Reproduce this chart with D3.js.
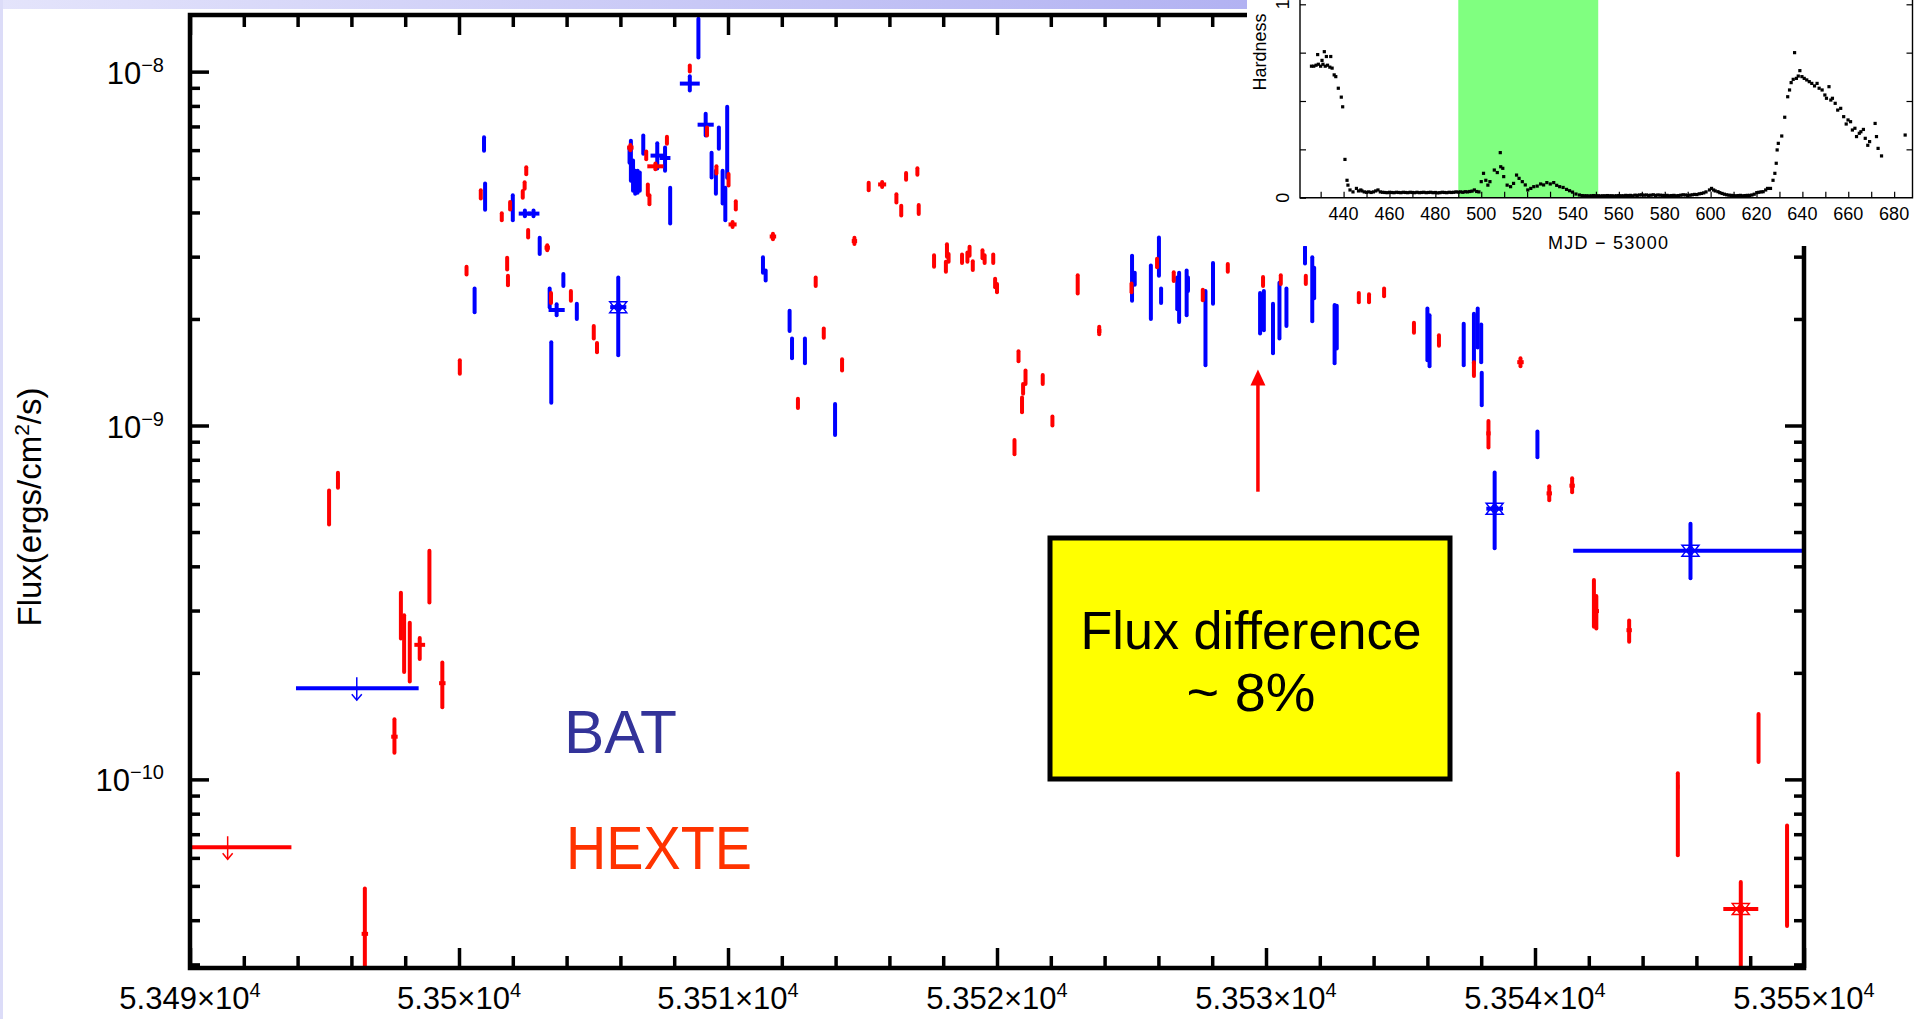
<!DOCTYPE html>
<html>
<head>
<meta charset="utf-8">
<title>BAT / HEXTE flux</title>
<script src="https://cdn.jsdelivr.net/npm/d3@7"></script>
<style>
  body { margin: 0; background: #fff; overflow: hidden; }
  svg { display: block; }
  .axis path { display: none; }
  .axis line { stroke: #000; stroke-width: 3.5; }
  text { font-family: "Liberation Sans", Arial, sans-serif; }
</style>
</head>
<body>
<div id="chart"></div>
<script>
// flux values below are in units of 1e-9 ergs/cm2/s
var UNIT = 1e-9;

// ---- BAT (blue) ----
var batMjd = [
  53500.58, 53500.93, 53500.97, 53502.00, 53502.45, 53502.77, 53503.00, 53503.37, 53503.43, 53503.63,
  53503.88, 53504.38, 53505.92, 53506.34, 53506.39, 53506.47, 53506.55, 53506.64, 53506.72, 53506.85,
  53507.37, 53507.66, 53507.85, 53508.58, 53508.90, 53509.17, 53509.39, 53509.55, 53509.66, 53509.80,
  53509.90, 53509.97, 53511.30, 53511.40, 53512.29, 53512.38, 53512.86, 53513.98, 53525.02, 53525.12,
  53525.72, 53526.02, 53526.10, 53526.70, 53526.77, 53527.05, 53527.10, 53527.75, 53528.03, 53529.78,
  53529.92, 53530.26, 53530.50, 53530.76, 53531.45, 53531.72, 53531.79, 53532.55, 53532.63, 53536.00,
  53536.08, 53537.35, 53537.73, 53537.87, 53538.00, 53538.02, 53538.50, 53540.09, 53545.78];
var batFlux = [
  2.25, 6.24, 4.44, 4.12, 3.97, 3.97, 3.24, 2.29, 1.41, 2.12,
  2.58, 2.10, 2.16, 5.80, 5.60, 5.08, 4.85, 4.90, 4.80, 6.30,
  5.79, 5.70, 4.17, 9.25, 12.4, 7.08, 5.46, 4.92, 6.50, 4.70,
  4.23, 6.38, 2.85, 2.65, 2.00, 1.65, 1.62, 1.05, 2.62, 2.60,
  2.40, 3.00, 2.34, 2.40, 2.30, 2.37, 2.50, 1.89, 2.53, 2.09,
  2.11, 1.88, 2.11, 2.16, 3.00, 2.44, 2.55, 1.81, 1.90, 1.81,
  1.74, 1.70, 1.76, 1.88, 1.71, 1.27, 0.582, 0.883, 0.443];
var batLo = [
  2.09, 5.98, 4.07, 3.80, 3.90, 3.90, 3.05, 2.16, 1.16, 2.05,
  2.48, 2.00, 1.58, 5.53, 4.92, 4.61, 4.52, 4.55, 4.61, 5.86,
  5.32, 5.25, 3.72, 8.85, 10.96, 6.60, 5.02, 4.52, 6.05, 4.24,
  3.80, 5.01, 2.70, 2.57, 1.85, 1.55, 1.50, 0.94, 2.25, 2.50,
  2.00, 2.65, 2.22, 2.13, 1.96, 2.05, 2.40, 1.48, 2.21, 1.82,
  1.86, 1.60, 1.76, 1.91, 2.87, 1.97, 2.29, 1.50, 1.65, 1.53,
  1.47, 1.48, 1.50, 1.66, 1.51, 1.14, 0.450, 0.813, 0.370];
var batHi = [
  2.44, 6.52, 4.83, 4.47, 4.05, 4.05, 3.39, 2.44, 1.72, 2.20,
  2.68, 2.21, 2.62, 6.10, 6.38, 5.61, 5.25, 5.25, 5.19, 6.60,
  6.27, 6.10, 4.70, 9.70, 14.1, 7.60, 5.90, 5.25, 6.95, 5.25,
  4.70, 7.96, 2.99, 2.74, 2.11, 1.76, 1.76, 1.15, 3.02, 2.70,
  2.83, 3.40, 2.44, 2.62, 2.70, 2.74, 2.62, 2.40, 2.88, 2.37,
  2.40, 2.21, 2.53, 2.44, 3.20, 2.99, 2.79, 2.19, 2.18, 2.14,
  2.05, 1.94, 2.07, 2.14, 1.93, 1.41, 0.736, 0.962, 0.528];
var batXerr = [
  0, 0, 0, 0, 0.23, 0.22, 0, 0, 0, 0.3,
  0, 0, 0.3, 0, 0, 0, 0, 0, 0, 0,
  0.25, 0.2, 0, 0.37, 0, 0.3, 0, 0, 0, 0,
  0, 0, 0, 0, 0, 0, 0, 0, 0, 0,
  0, 0, 0, 0, 0, 0, 0, 0, 0, 0,
  0, 0, 0, 0, 0, 0, 0, 0, 0, 0,
  0, 0, 0, 0, 0, 0, 0.31, 0, 4.36];
// b = plain bar, c = cross, s = star marker
var batSym = ("bbbbccbbbc" + "bbsbbbbbbb" + "ccbcbcbbbb" + "bbbbbbbbbb" +
              "bbbbbbbbbb" + "bbbbbbbbbb" + "bbbbbbsbs").split("");

// ---- HEXTE (red) ----
var hexMjd = [
  53495.17, 53495.50, 53496.50, 53497.60, 53497.84, 53497.96, 53498.17, 53498.54, 53498.90, 53499.38,
  53500.03, 53500.28, 53500.81, 53501.59, 53501.79, 53501.82, 53501.90, 53502.37, 53502.44, 53502.50,
  53502.57, 53503.28, 53503.42, 53504.16, 53505.01, 53505.13, 53506.37, 53506.96, 53507.02, 53507.08,
  53507.30, 53507.73, 53508.58, 53509.22, 53509.57, 53510.02, 53510.17, 53510.29, 53511.67, 53512.60,
  53513.26, 53513.56, 53514.24, 53514.70, 53515.23, 53515.73, 53516.26, 53516.44, 53516.62, 53517.04,
  53517.09, 53517.66, 53518.10, 53518.14, 53518.20, 53518.70, 53518.90, 53518.98, 53519.10, 53519.46,
  53519.54, 53519.86, 53519.93, 53520.00, 53520.65, 53520.80, 53520.93, 53520.97, 53521.06, 53521.70,
  53522.06, 53523.00, 53523.80, 53525.00, 53525.95, 53526.57, 53527.65, 53528.58, 53529.89, 53530.55,
  53531.48, 53533.45, 53533.83, 53534.39, 53535.50, 53536.43, 53537.73, 53538.27, 53539.46, 53540.53,
  53541.38, 53542.19, 53542.28, 53543.50, 53545.31, 53547.65, 53548.31, 53549.37];
var hexFlux = [
  0.59, 0.70, 0.0366, 0.132, 0.295, 0.25, 0.23, 0.24, 0.38, 0.187,
  1.46, 2.74, 4.50, 3.89, 2.86, 2.57, 4.18, 4.50, 4.77, 5.25,
  3.48, 3.18, 2.30, 2.33, 1.84, 1.66, 6.10, 5.80, 4.68, 4.40,
  5.40, 6.40, 10.2, 6.78, 5.28, 4.99, 3.70, 4.18, 3.42, 1.15,
  2.55, 1.82, 1.48, 3.32, 4.73, 4.80, 4.38, 4.05, 5.06, 5.22,
  4.09, 2.92, 2.81, 3.12, 2.98, 2.96, 2.98, 3.12, 2.83, 3.05,
  2.96, 2.96, 2.53, 2.44, 0.87, 1.57, 1.15, 1.27, 1.37, 1.35,
  1.03, 2.50, 1.85, 2.45, 2.88, 2.63, 2.34, 2.79, 2.55, 2.58,
  2.58, 2.30, 2.29, 2.38, 1.89, 1.74, 1.45, 0.95, 1.51, 0.643,
  0.676, 0.319, 0.299, 0.264, 0.0953, 0.043, 0.135, 0.0624];
var hexLo = [
  0.525, 0.667, 0.020, 0.119, 0.25, 0.201, 0.189, 0.219, 0.316, 0.160,
  1.40, 2.67, 4.38, 3.80, 2.76, 2.49, 4.08, 4.40, 4.67, 5.13,
  3.40, 3.13, 2.22, 2.25, 1.76, 1.61, 6.00, 5.65, 4.48, 4.22,
  5.30, 6.25, 10.0, 6.60, 5.15, 4.77, 3.64, 4.08, 3.36, 1.12,
  2.48, 1.77, 1.43, 3.26, 4.62, 4.72, 4.27, 3.92, 4.95, 5.11,
  3.96, 2.81, 2.72, 3.00, 2.90, 2.88, 2.90, 3.02, 2.75, 2.97,
  2.88, 2.88, 2.46, 2.38, 0.83, 1.52, 1.09, 1.23, 1.31, 1.31,
  1.00, 2.36, 1.81, 2.38, 2.80, 2.56, 2.26, 2.72, 2.48, 2.51,
  2.51, 2.23, 2.23, 2.32, 1.83, 1.68, 1.38, 0.867, 1.47, 0.615,
  0.648, 0.270, 0.267, 0.245, 0.061, 0.020, 0.112, 0.0385];
var hexHi = [
  0.655, 0.735, 0.0492, 0.148, 0.337, 0.291, 0.277, 0.251, 0.443, 0.214,
  1.53, 2.81, 4.62, 3.98, 2.98, 2.65, 4.28, 4.60, 4.87, 5.37,
  3.57, 3.23, 2.37, 2.40, 1.91, 1.71, 6.20, 5.95, 4.80, 4.47,
  5.50, 6.55, 10.4, 6.95, 5.40, 5.14, 3.76, 4.30, 3.48, 1.19,
  2.62, 1.88, 1.54, 3.39, 4.85, 4.88, 4.50, 4.18, 5.17, 5.33,
  4.20, 3.03, 2.90, 3.25, 3.05, 3.04, 3.08, 3.20, 2.91, 3.13,
  3.03, 3.04, 2.60, 2.51, 0.91, 1.62, 1.20, 1.31, 1.43, 1.39,
  1.06, 2.66, 1.90, 2.52, 2.96, 2.71, 2.42, 2.86, 2.63, 2.66,
  2.65, 2.37, 2.35, 2.44, 1.95, 1.80, 1.51, 1.03, 1.55, 0.673,
  0.709, 0.366, 0.330, 0.281, 0.104, 0.0513, 0.153, 0.0741];
var hexXerr = [
  0, 0, 0.12, 0.12, 0, 0, 0, 0.2, 0, 0.12,
  0, 0, 0, 0, 0, 0, 0, 0, 0, 0,
  0, 0.1, 0, 0, 0, 0, 0.12, 0, 0, 0,
  0.3, 0, 0, 0, 0, 0, 0.15, 0, 0.12, 0,
  0, 0, 0, 0.1, 0, 0.15, 0, 0, 0, 0,
  0, 0, 0, 0, 0, 0, 0, 0, 0, 0,
  0, 0, 0, 0, 0, 0, 0, 0, 0, 0,
  0, 0, 0.08, 0, 0, 0, 0, 0, 0, 0,
  0, 0, 0, 0, 0, 0, 0, 0.08, 0.12, 0.1,
  0.1, 0, 0.1, 0.1, 0.06, 0.65, 0, 0];
var hexSym = ("bbccbbbcbc" + "bbbbbbbbbb" + "bcbbbbcbbb" + "cbbbbbcbcb" + "bbbcbcbbbb" +
              "bbbbbbbbbb" + "bbbbbbbbbb" + "bbcbbbbbbb" + "bbbbbbbccc" + "cbcccsbb").split("");

// ---- upper limits (BAT, HEXTE) ----
var ulSeries = ["BAT", "HEXTE"];
var ulFrom = [53493.94, 53489.6];
var ulTo = [53498.50, 53493.77];
var ulArrowAt = [53496.2, 53491.4];
var ulFlux = [0.181, 0.0643];

// ---- annotation arrow ----
var arrowMjd = 53529.7;
var arrowFrom = 0.65;
var arrowTo = 1.44;

// ---- axis ticks ----
var xTickVals = [53490, 53500, 53510, 53520, 53530, 53540, 53550];
var xTickText = ["5.349", "5.35", "5.351", "5.352", "5.353", "5.354", "5.355"];
var yTickVals = [1e-10, 1e-9, 1e-8];
var yTickExp = ["\u221210", "\u22129", "\u22128"];

// ---- inset: hardness vs MJD-53000 ----
var hardMjd = [
  426, 427, 428, 428.7, 429, 430, 430.6, 431, 431.6, 432,
  432.5, 433, 434, 434.4, 435, 435.9, 436.6, 437.7, 439, 439.6,
  440.6, 441.5, 441.9, 442.8, 444.1, 445.6, 446.5, 447.5,
  448, 449, 450, 451, 452, 453, 454, 455, 456, 457,
  458, 459, 460, 461, 462, 463, 464, 465, 466, 467,
  468, 469, 470, 471, 472, 473, 474, 475, 476, 477,
  478, 479, 480, 481, 482, 483, 484, 485, 486, 487,
  488, 489, 490, 491, 492, 493, 494, 495, 496, 497,
  498, 499,
  500, 501, 502, 502.9, 503.8, 505.7, 507, 508.3, 508.5, 509.4,
  509.8, 511.3, 512.8, 514.1, 515.4, 516.5, 517.9, 519.2, 520.3, 521.6,
  522.9, 524.4, 525.9, 527.2, 528.6, 530.1, 531.6, 532.9, 534.2, 535.7,
  537.2, 538.5, 539.8, 541.3, 542.8,
  544, 545, 546, 547, 548, 549, 550, 551, 552, 553,
  554, 555, 556, 557, 558, 559, 560, 561, 562, 563,
  564, 565, 566, 567, 568, 569, 570, 571, 572, 573,
  574, 575, 576, 577, 578, 579, 580, 581, 582, 583,
  584, 585, 586, 587, 588, 589, 590, 591, 592, 593,
  594, 595, 596, 597, 598,
  599.5, 600.4, 601.3, 602, 603.2, 604, 605, 606, 607, 608,
  609, 610, 611, 612, 613, 614, 615, 616, 617, 618,
  619, 620.1, 621, 622, 622.9, 624, 624.8, 626.1, 627.2, 628,
  628.6, 629, 629.5, 631, 632.3, 633.6, 634.4, 635.1, 636, 636.6,
  637.4, 638.2, 638.9, 639.8, 640.8, 641.9, 643, 644.1, 645.3, 646.4,
  647.3, 648.6, 649.8, 650.5, 651.6, 652.4, 653.1, 654.3, 655.4, 656.7,
  658, 659.1, 659.9, 661, 661.8, 662.9, 663.6, 664.8, 665.5, 666.6,
  667.4, 668.5, 669.3, 671.7, 672.3, 673, 674.5, 684.8];
var hardVal = [
  .68, .68, .685, .74, .69, .68, .71, .69, .755, .68,
  .73, .685, .675, .73, .67, .635, .626, .566, .52, .47,
  .198, .09, .065, .04, .03, .048, .035, .04,
  .035, .03, .028, .03, .027, .03, .035, .04, .03, .028,
  .027, .026, .028, .027, .026, .028, .027, .026, .028, .027,
  .026, .028, .027, .026, .028, .026, .027, .028, .026, .027,
  .028, .026, .027, .025, .026, .028, .027, .026, .028, .027,
  .028, .03, .029, .03, .028, .031, .03, .032, .034, .04,
  .032, .03,
  .083, .126, .09, .065, .083, .143, .13, .233, .16, .152,
  .109, .065, .057, .074, .117, .1, .083, .066, .04, .048,
  .057, .06, .071, .066, .078, .071, .078, .064, .057, .053,
  .043, .036, .029, .019, .014,
  .011, .01, .01, .009, .01, .011, .01, .01, .009, .01,
  .01, .011, .01, .01, .009, .01, .011, .01, .01, .012,
  .011, .012, .01, .013, .012, .014, .015, .013, .014, .012,
  .013, .015, .012, .014, .013, .012, .011, .012, .01, .011,
  .012, .01, .011, .013, .015, .014, .012, .013, .015, .017,
  .016, .02, .022, .025, .03,
  .04, .048, .04, .035, .031, .026, .022, .018, .015, .013,
  .012, .011, .01, .011, .012, .01, .011, .012, .012, .014,
  .018, .026, .028, .03, .031, .04, .048, .048, .09, .126,
  .178, .247, .281, .319, .416, .522, .557, .595, .612, .75,
  .617, .629, .657, .626, .617, .609, .6, .591, .578, .591,
  .566, .557, .531, .514, .574, .505, .514, .488, .453, .462,
  .419, .381, .402, .393, .35, .359, .316, .333, .341, .353,
  .307, .271, .29, .384, .316, .255, .216, .324];
var hardBand = [490, 551];
var insetTickVals = [440, 460, 480, 500, 520, 540, 560, 580, 600, 620, 640, 660, 680];

var colors = {BAT: "#0000ff", HEXTE: "#ff0000"};

//define chart area
var svgWidth = 1915;
var svgHeight = 1019;
var margin = {top: 15, right: 111, bottom: 51, left: 190};
var width = svgWidth - margin.left - margin.right;
var height = svgHeight - margin.top - margin.bottom;

var svg = d3.select("#chart").append("svg")
    .attr("width", svgWidth)
    .attr("height", svgHeight);

// slide decoration: lavender strips
var defs = svg.append("defs");
var grad = defs.append("linearGradient").attr("id", "strip");
grad.append("stop").attr("offset", "0%").attr("stop-color", "#e4e4fb");
grad.append("stop").attr("offset", "100%").attr("stop-color", "#b2b2f2");
svg.append("rect").attr("x", 0).attr("y", 0).attr("width", 1247).attr("height", 9)
    .attr("fill", "url(#strip)");
svg.append("rect").attr("x", 0).attr("y", 0).attr("width", 3).attr("height", svgHeight)
    .attr("fill", "#dcdcf8");

defs.append("clipPath").attr("id", "plotClip")
    .append("rect").attr("width", width).attr("height", height);

var chartGroup = svg.append("g")
    .attr("transform", `translate(${margin.left}, ${margin.top})`);

var xScale = d3.scaleLinear().domain([53490, 53550]).range([0, width]);
var yScale = d3.scaleLog()
    .domain([Math.pow(10, -10.533), Math.pow(10, -7.84)])
    .range([height, 0]);

// minor ticks
var xMinor = d3.range(53492, 53550, 2).filter(d => (d - 53490) % 10 !== 0);
var yMinor = [];
[-11, -10, -9, -8].forEach(function(e) {
  for (var m = 2; m <= 9; m++) {
    var v = m * Math.pow(10, e);
    if (v > yScale.domain()[0] && v < yScale.domain()[1]) yMinor.push(v);
  }
});

function addAxis(axis, tx, ty) {
  chartGroup.append("g")
      .attr("class", "axis")
      .attr("transform", `translate(${tx}, ${ty})`)
      .call(axis.tickSizeOuter(0).tickFormat(""));
}
addAxis(d3.axisBottom(xScale).tickValues(xTickVals).tickSize(-20), 0, height);
addAxis(d3.axisBottom(xScale).tickValues(xMinor).tickSize(-12), 0, height);
addAxis(d3.axisTop(xScale).tickValues(xTickVals).tickSize(-20), 0, 0);
addAxis(d3.axisTop(xScale).tickValues(xMinor).tickSize(-12), 0, 0);
addAxis(d3.axisLeft(yScale).tickValues(yTickVals).tickSize(-19), 0, 0);
addAxis(d3.axisLeft(yScale).tickValues(yMinor).tickSize(-10), 0, 0);
addAxis(d3.axisRight(yScale).tickValues(yTickVals).tickSize(-19), width, 0);
addAxis(d3.axisRight(yScale).tickValues(yMinor).tickSize(-10), width, 0);

// tick labels
chartGroup.selectAll(".xlab").data(xTickVals).enter().append("text")
    .attr("class", "xlab")
    .attr("x", d => xScale(d))
    .attr("y", height + 41)
    .attr("text-anchor", "middle")
    .attr("font-size", 31)
    .each(function(d, i) {
      var t = d3.select(this);
      t.append("tspan").text(xTickText[i] + "\u00d710");
      t.append("tspan").attr("font-size", 20).attr("dy", -12).text("4");
    });

chartGroup.selectAll(".ylab").data(yTickVals).enter().append("text")
    .attr("class", "ylab")
    .attr("x", -26)
    .attr("y", d => yScale(d) + 12)
    .attr("text-anchor", "end")
    .attr("font-size", 31)
    .each(function(d, i) {
      var t = d3.select(this);
      t.append("tspan").text("10");
      t.append("tspan").attr("font-size", 20).attr("dy", -12).text(yTickExp[i]);
    });

// axis title
var ytitle = svg.append("text")
    .attr("transform", "translate(41, 507) rotate(-90)")
    .attr("text-anchor", "middle")
    .attr("font-size", 33);
ytitle.append("tspan").text("Flux(ergs/cm");
ytitle.append("tspan").attr("font-size", 21).attr("dy", -12).text("2");
ytitle.append("tspan").attr("dy", 12).text("/s)");

// data
var dataGroup = chartGroup.append("g").attr("clip-path", "url(#plotClip)");

// star marker: two overlapping triangles
function starPath(w, h) {
  return `M0,${-h}L${w},${h}L${-w},${h}Z M0,${h}L${w},${-h}L${-w},${-h}Z`;
}

function drawSeries(mjd, flux, lo, hi, xerr, sym, color) {
  var g = dataGroup.append("g");
  var idx = d3.range(mjd.length);
  g.selectAll(".ey").data(idx).enter().append("line")
      .attr("class", "ey")
      .attr("x1", i => xScale(mjd[i]))
      .attr("x2", i => xScale(mjd[i]))
      .attr("y1", i => yScale(lo[i] * UNIT))
      .attr("y2", i => yScale(hi[i] * UNIT))
      .attr("stroke", color)
      .attr("stroke-width", 4)
      .attr("stroke-linecap", "round");
  g.selectAll(".ex").data(idx.filter(i => xerr[i] > 0)).enter().append("line")
      .attr("class", "ex")
      .attr("x1", i => xScale(mjd[i] - xerr[i]))
      .attr("x2", i => xScale(mjd[i] + xerr[i]))
      .attr("y1", i => yScale(flux[i] * UNIT))
      .attr("y2", i => yScale(flux[i] * UNIT))
      .attr("stroke", color)
      .attr("stroke-width", 4);
  g.selectAll(".star").data(idx.filter(i => sym[i] === "s")).enter().append("path")
      .attr("class", "star")
      .attr("d", starPath(8.5, 5.5))
      .attr("transform", i => `translate(${xScale(mjd[i])}, ${yScale(flux[i] * UNIT)})`)
      .attr("fill", "none")
      .attr("stroke", color)
      .attr("stroke-width", 1.5);
}

drawSeries(batMjd, batFlux, batLo, batHi, batXerr, batSym, colors.BAT);
drawSeries(hexMjd, hexFlux, hexLo, hexHi, hexXerr, hexSym, colors.HEXTE);

// upper limits
ulSeries.forEach(function(s, k) {
  var c = colors[s];
  var yy = yScale(ulFlux[k] * UNIT);
  var ax = xScale(ulArrowAt[k]);
  dataGroup.append("line")
      .attr("x1", xScale(ulFrom[k])).attr("x2", xScale(ulTo[k]))
      .attr("y1", yy).attr("y2", yy)
      .attr("stroke", c).attr("stroke-width", 4);
  dataGroup.append("line")
      .attr("x1", ax).attr("x2", ax).attr("y1", yy - 11).attr("y2", yy + 12)
      .attr("stroke", c).attr("stroke-width", 1.5);
  dataGroup.append("path")
      .attr("d", `M${ax - 5},${yy + 6}L${ax},${yy + 12}L${ax + 5},${yy + 6}`)
      .attr("fill", "none").attr("stroke", c).attr("stroke-width", 1.5);
});

// red annotation arrow
var arX = xScale(arrowMjd), arY0 = yScale(arrowFrom * UNIT), arY1 = yScale(arrowTo * UNIT);
chartGroup.append("line")
    .attr("x1", arX).attr("x2", arX).attr("y1", arY0).attr("y2", arY1 + 12)
    .attr("stroke", colors.HEXTE).attr("stroke-width", 3.5);
chartGroup.append("path")
    .attr("d", `M${arX},${arY1}L${arX - 7.5},${arY1 + 16}L${arX + 7.5},${arY1 + 16}Z`)
    .attr("fill", colors.HEXTE);

// frame
chartGroup.append("rect")
    .attr("width", width).attr("height", height)
    .attr("fill", "none").attr("stroke", "#000").attr("stroke-width", 4.5);

// legend texts
var slideFont = "'DejaVu Sans Condensed', 'DejaVu Sans', sans-serif";
svg.append("text")
    .attr("x", 564).attr("y", 753)
    .attr("font-family", slideFont)
    .attr("font-size", 62).attr("fill", "#333399")
    .attr("textLength", 113).attr("lengthAdjust", "spacingAndGlyphs")
    .text("BAT");
svg.append("text")
    .attr("x", 566).attr("y", 869)
    .attr("font-family", slideFont)
    .attr("font-size", 62).attr("fill", "#ff3300")
    .attr("textLength", 186).attr("lengthAdjust", "spacingAndGlyphs")
    .text("HEXTE");

// yellow note box
svg.append("rect")
    .attr("x", 1050).attr("y", 538).attr("width", 400).attr("height", 241)
    .attr("fill", "#ffff00").attr("stroke", "#000").attr("stroke-width", 5);
svg.append("text")
    .attr("x", 1251).attr("y", 649).attr("text-anchor", "middle")
    .attr("font-family", slideFont)
    .attr("font-size", 53)
    .attr("textLength", 341).attr("lengthAdjust", "spacingAndGlyphs")
    .text("Flux difference");
svg.append("text")
    .attr("x", 1251).attr("y", 711).attr("text-anchor", "middle")
    .attr("font-family", slideFont)
    .attr("font-size", 53)
    .attr("textLength", 129).attr("lengthAdjust", "spacingAndGlyphs")
    .text("~ 8%");

// ---- inset hardness plot ----
var inset = svg.append("g");
inset.append("rect")
    .attr("x", 1247).attr("y", 0).attr("width", svgWidth - 1247).attr("height", 246)
    .attr("fill", "#fff");
var ix = d3.scaleLinear().domain([421, 688]).range([1300, 1912.5]);
var iy = d3.scaleLinear().domain([0, 1]).range([197.7, 4.3]);

inset.append("rect")
    .attr("x", ix(hardBand[0])).attr("y", 0)
    .attr("width", ix(hardBand[1]) - ix(hardBand[0])).attr("height", iy(0))
    .attr("fill", "#80ff80");

inset.selectAll(".hd").data(d3.range(hardMjd.length)).enter().append("rect")
    .attr("class", "hd")
    .attr("x", i => ix(hardMjd[i]) - 1.6)
    .attr("y", i => iy(hardVal[i]) - 1.6)
    .attr("width", 3.2).attr("height", 3.2)
    .attr("fill", "#000");

// inset axes
var insetAxisStyle = g => g.select(".domain").remove();
inset.append("g")
    .attr("transform", `translate(0, ${iy(0)})`)
    .call(d3.axisBottom(ix).tickValues(d3.range(430, 681, 10)).tickSize(-6).tickFormat(""))
    .call(insetAxisStyle)
    .selectAll("line").attr("stroke", "#000").attr("stroke-width", 1.2);
inset.append("g")
    .attr("transform", `translate(${ix(421)}, 0)`)
    .call(d3.axisLeft(iy).tickValues([0, 0.25, 0.5, 0.75, 1]).tickSize(-6).tickFormat(""))
    .call(insetAxisStyle)
    .selectAll("line").attr("stroke", "#000").attr("stroke-width", 1.2);
inset.append("g")
    .attr("transform", `translate(${ix(688)}, 0)`)
    .call(d3.axisRight(iy).tickValues([0.25, 0.5, 0.75, 1]).tickSize(-6).tickFormat(""))
    .call(insetAxisStyle)
    .selectAll("line").attr("stroke", "#000").attr("stroke-width", 1.2);
inset.append("path")
    .attr("d", `M${ix(421)},0V${iy(0)}H${ix(688)}V0`)
    .attr("fill", "none").attr("stroke", "#000").attr("stroke-width", 1.4);

inset.selectAll(".itl").data(insetTickVals).enter().append("text")
    .attr("class", "itl")
    .attr("x", d => ix(d)).attr("y", 220)
    .attr("text-anchor", "middle")
    .attr("font-size", 18)
    .text(d => d);
inset.append("text")
    .attr("x", 1608).attr("y", 249).attr("text-anchor", "middle")
    .attr("font-size", 18)
    .attr("textLength", 120).attr("lengthAdjust", "spacing")
    .text("MJD \u2212 53000");
inset.append("text")
    .attr("transform", "translate(1266, 52) rotate(-90)")
    .attr("text-anchor", "middle")
    .attr("font-size", 18)
    .text("Hardness");
[0, 1].forEach(function(v) {
  inset.append("text")
      .attr("transform", `translate(1289, ${iy(v)}) rotate(-90)`)
      .attr("text-anchor", "middle")
      .attr("font-size", 18)
      .text(v);
});
</script>
</body>
</html>
